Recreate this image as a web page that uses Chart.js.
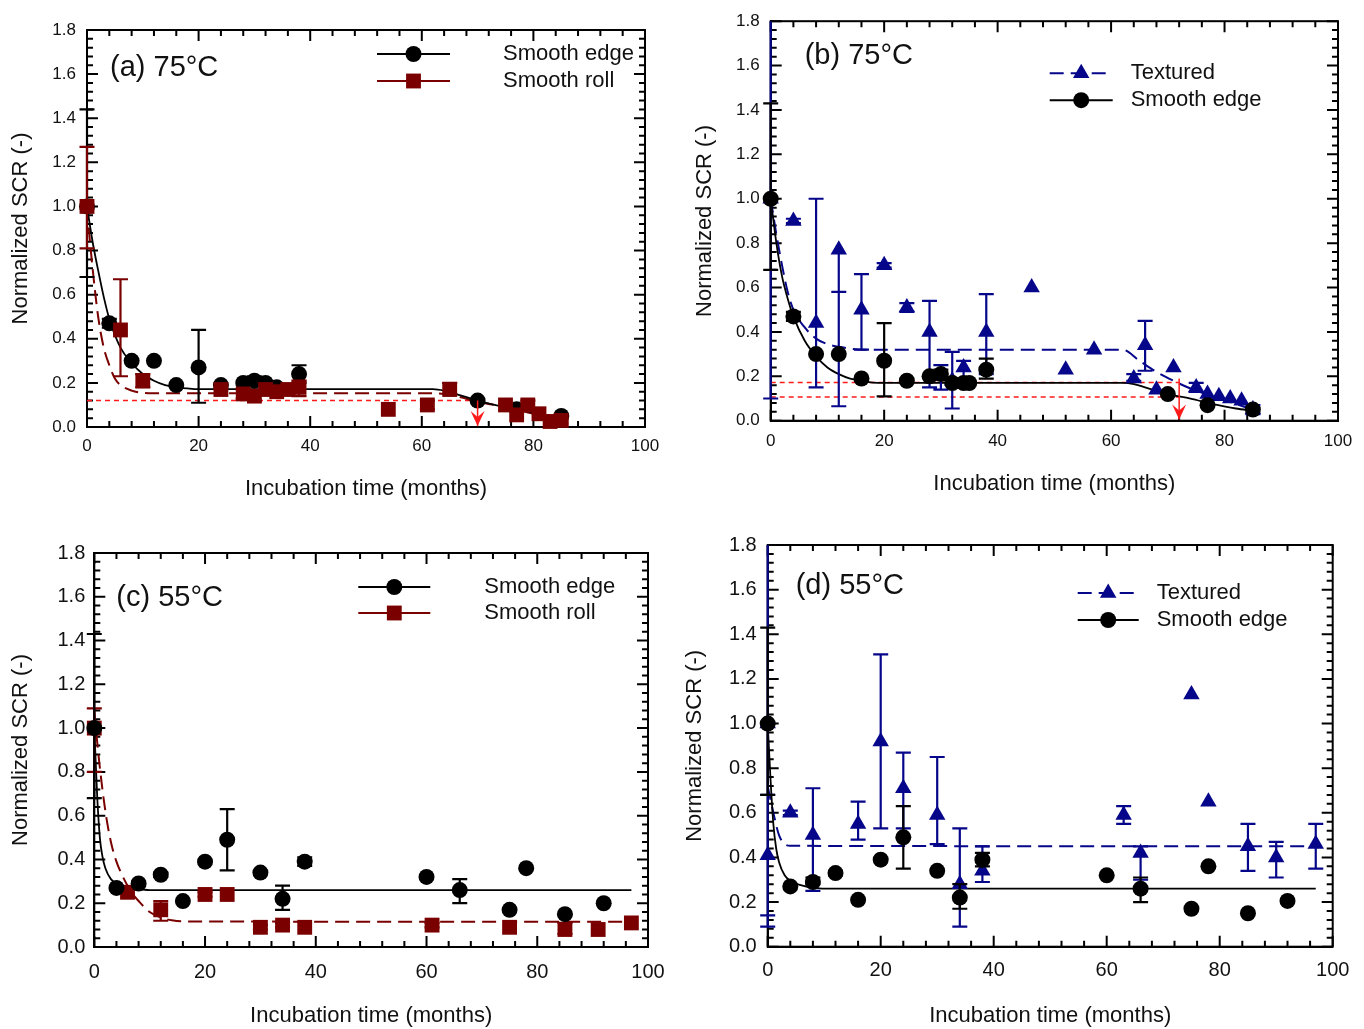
<!DOCTYPE html>
<html>
<head>
<meta charset="utf-8">
<script src="https://cdn.jsdelivr.net/npm/chart.js@4.4.1/dist/chart.umd.min.js"></script>
<style>
  body { margin: 0; background: #fff; }
  #wrap { position: relative; width: 1364px; height: 1029px; }
  canvas { position: absolute; }
</style>
</head>
<body>
<div id="wrap">
  <canvas id="pa" width="682" height="514" style="left:0;top:0"></canvas>
  <canvas id="pb" width="682" height="514" style="left:682px;top:0"></canvas>
  <canvas id="pc" width="682" height="515" style="left:0;top:514px"></canvas>
  <canvas id="pd" width="682" height="515" style="left:682px;top:514px"></canvas>
</div>
<script>
// ---- (a) 75°C : smooth edge vs smooth roll ----
const aEdgeMonths = [0, 4, 8, 12, 16, 20, 24, 28, 30, 32, 34, 38, 70, 77, 85];
const aEdgeSCR    = [1.00, 0.47, 0.30, 0.30, 0.19, 0.27, 0.19, 0.20, 0.21, 0.20, 0.18, 0.24, 0.12, 0.08, 0.05];
const aEdgeLo     = [0.68, 0.45, null, null, null, 0.11, null, null, 0.19, null, null, 0.20, null, null, null];
const aEdgeHi     = [1.44, 0.49, null, null, null, 0.44, null, null, 0.23, null, null, 0.28, null, null, null];

const aRollMonths = [0, 6, 10, 24, 28, 30, 32, 34, 36, 38, 54, 61, 65, 75, 77, 79, 81, 83, 85];
const aRollSCR    = [1.00, 0.44, 0.21, 0.17, 0.15, 0.14, 0.17, 0.16, 0.17, 0.18, 0.08, 0.10, 0.17, 0.10, 0.055, 0.10, 0.06, 0.025, 0.03];
const aRollLo     = [0.81, 0.23, 0.18, null, 0.13, 0.12, null, null, 0.15, 0.14, null, 0.08, 0.15, null, null, 0.08, null, null, null];
const aRollHi     = [1.27, 0.67, 0.24, null, 0.17, 0.16, null, null, 0.19, 0.21, null, 0.12, 0.20, null, null, 0.12, null, null, null];

const aEdgeFitX = [0, 1, 2, 3, 4, 6, 8, 10, 12, 14, 16, 18, 20, 62, 64, 66, 68, 70, 74, 78, 82, 86];
const aEdgeFitY = [1.0, 0.84, 0.71, 0.59, 0.49, 0.36, 0.29, 0.24, 0.21, 0.19, 0.18, 0.175, 0.172, 0.172, 0.165, 0.15, 0.135, 0.12, 0.095, 0.075, 0.055, 0.04];
const aRollFitX = [0, 0.5, 1, 2, 3, 4, 5, 6, 8, 10, 12, 62, 66, 70, 75, 80, 86];
const aRollFitY = [1.0, 0.85, 0.72, 0.5, 0.36, 0.28, 0.22, 0.19, 0.165, 0.155, 0.153, 0.153, 0.14, 0.115, 0.09, 0.06, 0.03];
const aCutX = [0, 70];
const aCutY = [0.12, 0.12];
const aArrowX = [70, 70];
const aArrowY = [0.12, 0.005];

// ---- (b) 75°C : textured vs smooth edge ----
const bEdgeMonths = [0, 4, 8, 12, 16, 20, 24, 28, 30, 32, 34, 35, 38, 70, 77, 85];
const bEdgeSCR    = [1.00, 0.47, 0.30, 0.30, 0.19, 0.27, 0.18, 0.20, 0.21, 0.17, 0.17, 0.17, 0.23, 0.12, 0.07, 0.05];
const bEdgeLo     = [0.68, 0.45, null, null, null, 0.11, null, null, 0.19, null, null, null, 0.19, null, null, null];
const bEdgeHi     = [1.43, 0.49, null, null, null, 0.44, null, null, 0.23, null, null, null, 0.28, null, null, null];

const bTexMonths = [0, 4, 8, 12, 16, 20, 24, 28, 30, 32, 34, 38, 46, 52, 57, 64, 66, 68, 71, 75, 77, 79, 81, 83, 85];
const bTexSCR    = [1.00, 0.90, 0.44, 0.77, 0.50, 0.70, 0.51, 0.40, 0.20, 0.18, 0.24, 0.40, 0.60, 0.23, 0.32, 0.19, 0.34, 0.14, 0.24, 0.15, 0.12, 0.11, 0.10, 0.09, 0.05];
const bTexLo     = [0.10, 0.89, 0.15, 0.065, 0.32, 0.69, 0.49, 0.15, 0.14, 0.055, 0.17, 0.21, null, null, null, 0.18, 0.225, null, null, 0.13, null, null, null, null, 0.03];
const bTexHi     = [1.90, 0.91, 1.00, 0.58, 0.66, 0.71, 0.53, 0.54, 0.25, 0.31, 0.27, 0.57, null, null, null, 0.21, 0.45, null, null, 0.17, null, null, null, null, 0.07];

const bEdgeFitX = [0, 1, 2, 3, 4, 6, 8, 10, 12, 14, 16, 18, 20, 62, 64, 66, 68, 70, 74, 78, 82, 85];
const bEdgeFitY = [1.0, 0.8, 0.65, 0.55, 0.47, 0.36, 0.29, 0.24, 0.21, 0.19, 0.18, 0.172, 0.17, 0.17, 0.165, 0.15, 0.135, 0.12, 0.10, 0.075, 0.055, 0.045];
const bTexFitX = [0, 1, 2, 3, 4, 6, 8, 10, 12, 14, 16, 62, 65, 68, 71, 74, 78, 82, 85];
const bTexFitY = [1.0, 0.84, 0.7, 0.58, 0.50, 0.42, 0.37, 0.345, 0.333, 0.325, 0.32, 0.32, 0.27, 0.22, 0.18, 0.145, 0.11, 0.075, 0.05];
const bCutHiX = [0, 72];
const bCutHiY = [0.172, 0.172];
const bCutLoX = [0, 72];
const bCutLoY = [0.107, 0.107];
const bArrowX = [72, 72];
const bArrowY = [0.19, 0.005];

// ---- (c) 55°C : smooth edge vs smooth roll ----
const cEdgeMonths = [0, 4, 8, 12, 16, 20, 24, 30, 34, 38, 60, 66, 75, 78, 85, 92];
const cEdgeSCR    = [1.00, 0.27, 0.29, 0.33, 0.21, 0.39, 0.49, 0.34, 0.22, 0.39, 0.32, 0.26, 0.17, 0.36, 0.15, 0.20];
const cEdgeLo     = [0.68, null, 0.28, 0.32, null, null, 0.35, null, 0.17, 0.37, null, 0.20, null, null, null, null];
const cEdgeHi     = [1.43, null, 0.30, 0.34, null, null, 0.63, null, 0.28, 0.41, null, 0.31, null, null, null, null];

const cRollMonths = [0, 6, 12, 20, 24, 30, 34, 38, 61, 75, 85, 91, 97];
const cRollSCR    = [1.00, 0.25, 0.17, 0.24, 0.24, 0.09, 0.10, 0.09, 0.10, 0.09, 0.08, 0.08, 0.11];
const cRollLo     = [0.80, null, 0.12, 0.23, null, 0.08, 0.09, null, 0.09, null, 0.06, null, null];
const cRollHi     = [1.09, null, 0.21, 0.25, null, 0.10, 0.11, null, 0.11, null, 0.11, null, null];

const cEdgeFitX = [0, 0.5, 1, 1.5, 2, 3, 4, 6, 8, 10, 97];
const cEdgeFitY = [1.0, 0.7, 0.5, 0.41, 0.36, 0.31, 0.29, 0.275, 0.265, 0.26, 0.26];
const cRollFitX = [0, 1, 2, 3, 4, 5, 6, 7, 8, 10, 12, 14, 16, 97];
const cRollFitY = [1.07, 0.82, 0.62, 0.48, 0.39, 0.33, 0.28, 0.24, 0.21, 0.16, 0.135, 0.122, 0.117, 0.115];

// ---- (d) 55°C : textured vs smooth edge ----
const dEdgeMonths = [0, 4, 8, 12, 16, 20, 24, 30, 34, 38, 60, 66, 75, 78, 85, 92];
const dEdgeSCR    = [1.00, 0.27, 0.29, 0.33, 0.21, 0.39, 0.49, 0.34, 0.22, 0.39, 0.32, 0.26, 0.17, 0.36, 0.15, 0.205];
const dEdgeLo     = [0.68, null, 0.28, 0.32, null, null, 0.35, null, 0.17, 0.36, null, 0.20, null, null, null, null];
const dEdgeHi     = [1.43, null, 0.31, 0.34, null, null, 0.63, null, 0.28, 0.42, null, 0.31, null, null, null, null];

const dTexMonths = [0, 0, 4, 8, 16, 20, 24, 30, 34, 38, 63, 66, 75, 78, 85, 90, 97];
const dTexSCR    = [1.00, 0.41, 0.60, 0.50, 0.55, 0.92, 0.71, 0.59, 0.28, 0.34, 0.59, 0.42, 1.13, 0.65, 0.45, 0.40, 0.46];
const dTexLo     = [0.09, 0.14, 0.59, 0.25, 0.48, 0.53, 0.53, 0.46, 0.09, 0.29, 0.55, 0.30, null, null, 0.34, 0.31, 0.35];
const dTexHi     = [1.91, 0.68, 0.61, 0.71, 0.65, 1.31, 0.87, 0.85, 0.53, 0.45, 0.63, 0.45, null, null, 0.55, 0.47, 0.55];

const dEdgeFitX = [0, 0.5, 1, 1.5, 2, 3, 4, 6, 8, 10, 97];
const dEdgeFitY = [1.0, 0.75, 0.55, 0.44, 0.38, 0.32, 0.295, 0.275, 0.265, 0.26, 0.26];
const dTexFitX = [0, 1, 2, 3, 4, 97];
const dTexFitY = [0.72, 0.6, 0.5, 0.46, 0.452, 0.45];

const FONT = "'Liberation Sans', Arial, sans-serif";
const BLACK = '#000000', MAROON = '#7a0000', NAVY = '#06068a', RED = '#ff1a1a';
const R_CIRCLE = 8, R_RECT = 10.5, R_TRI = 9.5;

function pts(xs, ys) {
  return xs.map((x, i) => ({ x: x, y: ys[i] }));
}

function marks(xs, ys, lo, hi, style, color, radius) {
  return {
    data: pts(xs, ys), errLo: lo, errHi: hi, showLine: false,
    pointStyle: style, pointRadius: radius, pointHoverRadius: radius,
    backgroundColor: color, borderColor: color, pointBorderWidth: 0, clip: false
  };
}

function curve(xs, ys, color, dash, width) {
  return {
    data: pts(xs, ys), showLine: true, pointRadius: 0, pointHoverRadius: 0,
    borderColor: color, borderWidth: width, borderDash: dash,
    cubicInterpolationMode: 'monotone', fill: false
  };
}

// box frame with inward ticks on all four sides
const frame = {
  id: 'frame',
  beforeDatasetsDraw(chart) {
    const { ctx, chartArea: a, scales: { x, y } } = chart;
    ctx.save();
    ctx.strokeStyle = '#000';
    ctx.lineWidth = 2;
    ctx.strokeRect(a.left, a.top, a.right - a.left, a.bottom - a.top);
    ctx.beginPath();
    for (let k = 0; k <= 25; k++) {
      const len = k % 5 === 0 ? 11 : 6;
      const px = x.getPixelForValue(k * 4);
      ctx.moveTo(px, a.bottom); ctx.lineTo(px, a.bottom - len);
      ctx.moveTo(px, a.top); ctx.lineTo(px, a.top + len);
    }
    for (let k = 0; k <= 45; k++) {
      const len = k % 5 === 0 ? 11 : 6;
      const py = y.getPixelForValue(k * 0.04);
      ctx.moveTo(a.left, py); ctx.lineTo(a.left + len, py);
      ctx.moveTo(a.right, py); ctx.lineTo(a.right - len, py);
    }
    ctx.stroke();
    ctx.restore();
  }
};

// vertical error bars, drawn just under each marker set
const errorBars = {
  id: 'errorBars',
  beforeDatasetDraw(chart, args) {
    const ds = chart.data.datasets[args.index];
    if (!ds.errLo) return;
    const { ctx, chartArea: a, scales: { x, y } } = chart;
    ctx.save();
    ctx.beginPath();
    ctx.rect(a.left - 12, a.top, a.right - a.left + 24, a.bottom - a.top);
    ctx.clip();
    ctx.strokeStyle = ds.borderColor;
    ctx.lineWidth = 2.2;
    ctx.beginPath();
    ds.data.forEach((p, i) => {
      const lo = ds.errLo[i], hi = ds.errHi[i];
      if (lo == null || hi == null) return;
      const px = x.getPixelForValue(p.x);
      const yp = y.getPixelForValue(p.y);
      const yl = y.getPixelForValue(lo), yh = y.getPixelForValue(hi);
      ctx.moveTo(px, Math.max(yl, yp)); ctx.lineTo(px, Math.min(yh, yp));
      ctx.moveTo(px - 7.5, yl); ctx.lineTo(px + 7.5, yl);
      ctx.moveTo(px - 7.5, yh); ctx.lineTo(px + 7.5, yh);
    });
    ctx.stroke();
    ctx.restore();
  }
};

// arrow heads at the end of flagged line datasets
const arrowHeads = {
  id: 'arrowHeads',
  afterDatasetsDraw(chart) {
    const { ctx, scales: { x, y } } = chart;
    chart.data.datasets.forEach(ds => {
      if (!ds.arrowHead) return;
      const p = ds.data[ds.data.length - 1];
      const px = x.getPixelForValue(p.x), py = y.getPixelForValue(p.y);
      ctx.save();
      ctx.fillStyle = ds.borderColor;
      ctx.beginPath();
      ctx.moveTo(px, py);
      ctx.lineTo(px - 7, py - 15);
      ctx.lineTo(px, py - 9);
      ctx.lineTo(px + 7, py - 15);
      ctx.closePath();
      ctx.fill();
      ctx.restore();
    });
  }
};

// panel label and in-plot legend
const panelText = {
  id: 'panelText',
  afterDraw(chart, args, o) {
    const { ctx, chartArea: a } = chart;
    ctx.save();
    ctx.fillStyle = '#111';
    ctx.textBaseline = 'middle';
    ctx.textAlign = 'left';
    ctx.font = '29px ' + FONT;
    ctx.fillText(o.label, a.left + o.lx, a.top + o.ly);
    ctx.font = '22px ' + FONT;
    o.rows.forEach((r, i) => {
      const y0 = a.top + o.y0 + i * o.dy;
      const x0 = a.left + o.x0;
      ctx.strokeStyle = r.color;
      ctx.lineWidth = 2;
      ctx.setLineDash(r.dash || []);
      ctx.beginPath();
      ctx.moveTo(x0, y0); ctx.lineTo(x0 + o.len, y0);
      ctx.stroke();
      ctx.setLineDash([]);
      ctx.fillStyle = r.color;
      Chart.helpers.drawPoint(ctx, { pointStyle: r.style, radius: r.r, rotation: 0, borderWidth: 0 }, x0 + o.len / 2, y0);
      ctx.fillStyle = '#111';
      ctx.fillText(r.text, a.left + o.tx, y0);
    });
    ctx.restore();
  }
};

function makeChart(id, box, txt, datasets) {
  const cv = document.getElementById(id);
  return new Chart(cv, {
    type: 'scatter',
    data: { datasets: datasets },
    options: {
      responsive: false,
      animation: false,
      devicePixelRatio: 1,
      events: [],
      layout: { padding: { left: 0, top: box.top, right: cv.width - box.right, bottom: 0 } },
      plugins: { legend: { display: false }, tooltip: { enabled: false }, panelText: txt },
      scales: {
        x: {
          type: 'linear', min: 0, max: 100,
          afterFit: s => { s.height = cv.height - box.bottom; },
          grid: { display: false, drawTicks: false },
          border: { display: true, color: '#000', width: 2 },
          ticks: { stepSize: 20, padding: box.xPad, color: '#111', font: { family: FONT, size: box.tick } },
          title: { display: true, text: 'Incubation time (months)', color: '#111',
                   font: { family: FONT, size: 22 }, padding: { top: 0, bottom: box.xTitle } }
        },
        y: {
          type: 'linear', min: 0, max: 1.8,
          afterFit: s => { s.width = box.left; },
          grid: { display: false, drawTicks: false },
          border: { display: true, color: '#000', width: 2 },
          ticks: { stepSize: 0.2, padding: box.yPad, color: '#111', font: { family: FONT, size: box.tick },
                   callback: v => v.toFixed(1) },
          title: { display: true, text: 'Normalized SCR (-)', color: '#111',
                   font: { family: FONT, size: 22 }, padding: { top: box.yTitle, bottom: 0 } }
        }
      }
    },
    plugins: [frame, errorBars, arrowHeads, panelText]
  });
}

const edgeRow = { text: 'Smooth edge', color: BLACK, style: 'circle', r: R_CIRCLE };
const rollRow = { text: 'Smooth roll', color: MAROON, style: 'rect', r: R_RECT };
const texRow = { text: 'Textured', color: NAVY, style: 'triangle', r: R_TRI, dash: [14, 7] };

const aArrow = curve(aArrowX, aArrowY, RED, [], 1.5);
aArrow.arrowHead = true;
makeChart('pa',
  { left: 87, top: 30, right: 645, bottom: 427, tick: 17, xPad: 9, yPad: 11, xTitle: 12, yTitle: 8 },
  { label: '(a) 75°C', lx: 23, ly: 38, x0: 290, y0: 24, dy: 27, len: 73, tx: 416, rows: [edgeRow, rollRow] },
  [
    aArrow,
    marks(aRollMonths, aRollSCR, aRollLo, aRollHi, 'rect', MAROON, R_RECT),
    marks(aEdgeMonths, aEdgeSCR, aEdgeLo, aEdgeHi, 'circle', BLACK, R_CIRCLE),
    curve(aEdgeFitX, aEdgeFitY, BLACK, [], 1.8),
    curve(aRollFitX, aRollFitY, MAROON, [14, 7], 2),
    curve(aCutX, aCutY, RED, [5, 4], 1.5)
  ]);

const bArrow = curve(bArrowX, bArrowY, RED, [], 1.5);
bArrow.arrowHead = true;
makeChart('pb',
  { left: 88.7, top: 16, right: 656, bottom: 420.7, tick: 17, xPad: 10, yPad: 11, xTitle: 17, yTitle: 10 },
  { label: '(b) 75°C', lx: 34, ly: 35, x0: 279, y0: 52, dy: 27, len: 63, tx: 360, rows: [texRow, edgeRow] },
  [
    bArrow,
    marks(bEdgeMonths, bEdgeSCR, bEdgeLo, bEdgeHi, 'circle', BLACK, R_CIRCLE),
    marks(bTexMonths, bTexSCR, bTexLo, bTexHi, 'triangle', NAVY, R_TRI),
    curve(bEdgeFitX, bEdgeFitY, BLACK, [], 1.8),
    curve(bTexFitX, bTexFitY, NAVY, [14, 7], 2),
    curve(bCutHiX, bCutHiY, RED, [5, 4], 1.5),
    curve(bCutLoX, bCutLoY, RED, [5, 4], 1.5)
  ]);

makeChart('pc',
  { left: 94.3, top: 39, right: 648, bottom: 433, tick: 20, xPad: 13, yPad: 9, xTitle: 0, yTitle: 8 },
  { label: '(c) 55°C', lx: 22, ly: 45, x0: 264, y0: 34, dy: 26, len: 72, tx: 390, rows: [edgeRow, rollRow] },
  [
    marks(cEdgeMonths, cEdgeSCR, cEdgeLo, cEdgeHi, 'circle', BLACK, R_CIRCLE),
    marks(cRollMonths, cRollSCR, cRollLo, cRollHi, 'rect', MAROON, R_RECT),
    curve(cEdgeFitX, cEdgeFitY, BLACK, [], 1.8),
    curve(cRollFitX, cRollFitY, MAROON, [14, 7], 2)
  ]);

makeChart('pd',
  { left: 85.7, top: 31, right: 650.7, bottom: 432.7, tick: 20, xPad: 12, yPad: 11, xTitle: 0, yTitle: 0 },
  { label: '(d) 55°C', lx: 28, ly: 41, x0: 310, y0: 48, dy: 27, len: 61, tx: 389, rows: [texRow, edgeRow] },
  [
    marks(dEdgeMonths, dEdgeSCR, dEdgeLo, dEdgeHi, 'circle', BLACK, R_CIRCLE),
    marks(dTexMonths, dTexSCR, dTexLo, dTexHi, 'triangle', NAVY, R_TRI),
    curve(dEdgeFitX, dEdgeFitY, BLACK, [], 1.8),
    curve(dTexFitX, dTexFitY, NAVY, [14, 7], 2)
  ]);
</script>
</body>
</html>
